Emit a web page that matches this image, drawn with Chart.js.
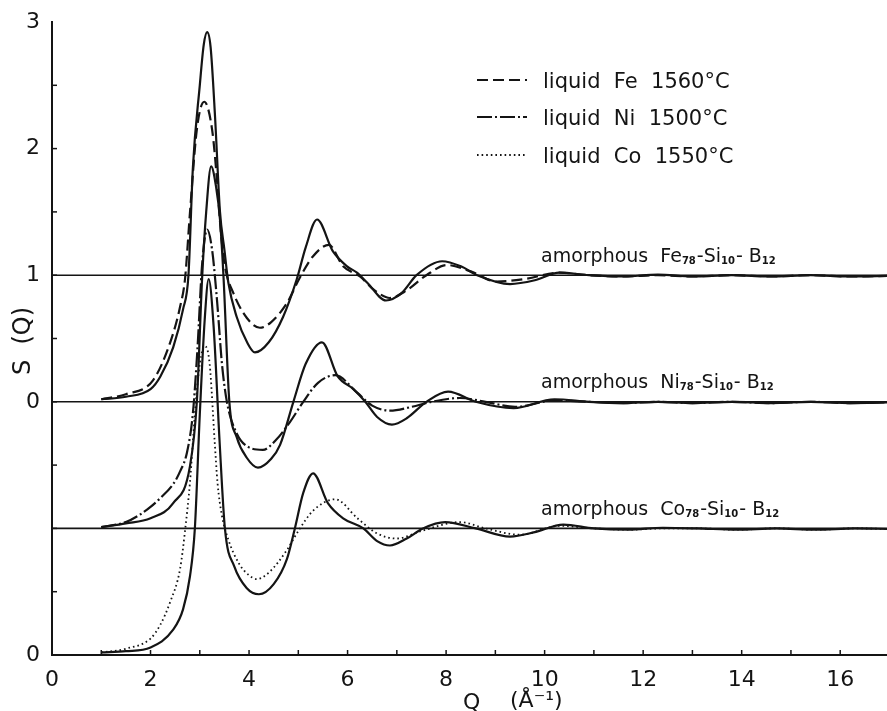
<!DOCTYPE html>
<html>
<head>
<meta charset="utf-8">
<script src="https://cdn.jsdelivr.net/npm/chart.js@4.4.0/dist/chart.umd.min.js"></script>
<style>
  html, body { margin: 0; padding: 0; background: #fff; }
  #wrap { width: 887px; height: 711px; }
</style>
</head>
<body>
<div id="wrap"><canvas id="sq"></canvas></div>
<script>
// Q in 1/Angstrom, S(Q). Each set is shifted down by one unit.
const feOffset = 0, niOffset = -1, coOffset = -2;

const feAmorQ = [1.0, 1.5, 2.0, 2.2, 2.46, 2.66, 2.77, 2.86, 3.0, 3.08, 3.15, 3.22, 3.31, 3.41, 3.5, 3.58, 3.75, 3.96, 4.12, 4.4, 4.69, 4.97, 5.15, 5.38, 5.7, 5.99, 6.19, 6.4, 6.78, 7.1, 7.4, 7.92, 8.3, 8.63, 9.3, 9.8, 10.3, 10.9, 11.6, 12.3, 13.0, 13.8, 14.6, 15.4, 16.2, 17.0];
const feAmorS = [0.02, 0.04, 0.1, 0.2, 0.43, 0.73, 1.0, 1.85, 2.5, 2.82, 2.92, 2.8, 2.25, 1.5, 1.2, 0.94, 0.67, 0.47, 0.39, 0.47, 0.67, 0.97, 1.22, 1.44, 1.19, 1.07, 1.02, 0.94, 0.8, 0.86, 1.0, 1.11, 1.07, 1.0, 0.93, 0.96, 1.02, 1.0, 0.99, 1.005, 0.99, 1.0, 0.99, 1.0, 0.99, 0.995];

const feLiqQ = [1.0, 1.5, 2.05, 2.4, 2.6, 2.7, 2.8, 2.94, 3.09, 3.25, 3.35, 3.43, 3.51, 3.68, 3.96, 4.22, 4.45, 4.77, 5.03, 5.3, 5.62, 5.91, 6.25, 6.55, 6.86, 7.2, 7.6, 8.02, 8.5, 9.03, 9.6, 10.3, 10.9, 11.6, 12.3, 13.0, 13.8, 14.6, 15.4, 16.2, 17.0];
const feLiqS = [0.02, 0.06, 0.17, 0.47, 0.75, 0.97, 1.49, 2.15, 2.37, 2.15, 1.75, 1.33, 1.07, 0.86, 0.66, 0.585, 0.63, 0.78, 0.98, 1.15, 1.24, 1.07, 0.99, 0.88, 0.82, 0.88, 1.0, 1.08, 1.03, 0.95, 0.97, 1.02, 1.0, 0.99, 1.0, 0.99, 1.0, 0.99, 1.0, 0.99, 0.995];

const niAmorQ = [1.0, 1.5, 2.0, 2.46, 2.8, 2.94, 3.05, 3.13, 3.23, 3.33, 3.41, 3.48, 3.6, 3.75, 3.95, 4.18, 4.45, 4.63, 4.9, 5.15, 5.48, 5.8, 6.12, 6.36, 6.6, 6.9, 7.2, 7.6, 8.04, 8.6, 9.37, 10.2, 10.9, 11.6, 12.3, 13.0, 13.8, 14.6, 15.4, 16.2, 17.0];
const niAmorS = [0.01, 0.04, 0.08, 0.2, 0.49, 1.0, 2.0, 2.5, 2.86, 2.7, 2.44, 2.0, 1.0, 0.72, 0.56, 0.48, 0.55, 0.66, 1.0, 1.3, 1.47, 1.2, 1.1, 1.0, 0.88, 0.82, 0.87, 1.0, 1.08, 1.0, 0.95, 1.02, 1.0, 0.99, 1.0, 0.99, 1.0, 0.99, 1.0, 0.99, 0.995];

const niLiqQ = [1.0, 1.5, 1.79, 2.0, 2.2, 2.46, 2.6, 2.74, 2.86, 2.95, 3.05, 3.15, 3.25, 3.35, 3.45, 3.55, 3.75, 4.0, 4.28, 4.55, 4.83, 5.1, 5.4, 5.75, 6.2, 6.5, 6.86, 7.3, 7.7, 8.28, 8.8, 9.4, 10.2, 10.9, 11.6, 12.3, 13.0, 13.8, 14.6, 15.4, 16.2, 17.0];
const niLiqS = [0.01, 0.05, 0.11, 0.17, 0.24, 0.35, 0.45, 0.6, 0.91, 1.4, 2.1, 2.36, 2.2, 1.8, 1.3, 1.0, 0.75, 0.64, 0.62, 0.7, 0.84, 1.0, 1.15, 1.21, 1.07, 0.97, 0.93, 0.96, 1.0, 1.03, 1.0, 0.96, 1.01, 1.0, 0.99, 1.0, 0.99, 1.0, 0.99, 1.0, 0.99, 0.995];

const coAmorQ = [1.0, 1.5, 2.0, 2.46, 2.66, 2.8, 2.9, 3.0, 3.1, 3.18, 3.28, 3.4, 3.51, 3.7, 3.95, 4.2, 4.5, 4.77, 4.93, 5.1, 5.3, 5.6, 5.91, 6.32, 6.6, 6.86, 7.2, 7.53, 7.98, 8.6, 9.3, 9.8, 10.38, 11.0, 11.7, 12.4, 13.1, 13.9, 14.7, 15.5, 16.3, 17.0];
const coAmorS = [0.02, 0.03, 0.06, 0.2, 0.36, 0.62, 1.0, 1.9, 2.65, 2.97, 2.6, 1.7, 1.0, 0.7, 0.53, 0.48, 0.56, 0.76, 1.0, 1.28, 1.435, 1.2, 1.08, 1.0, 0.9, 0.865, 0.92, 1.0, 1.05, 1.0, 0.935, 0.97, 1.03, 1.0, 0.99, 1.005, 1.0, 0.99, 1.0, 0.99, 1.0, 0.995];

const coLiqQ = [1.0, 1.5, 2.0, 2.2, 2.4, 2.6, 2.7, 2.8, 2.9, 3.0, 3.1, 3.2, 3.3, 3.36, 3.45, 3.58, 3.8, 4.0, 4.16, 4.4, 4.77, 5.0, 5.3, 5.75, 6.2, 6.6, 7.0, 7.5, 8.28, 8.8, 9.5, 10.3, 11.0, 11.7, 12.4, 13.1, 13.9, 14.7, 15.5, 16.3, 17.0];
const coLiqS = [0.02, 0.05, 0.13, 0.24, 0.42, 0.68, 0.98, 1.36, 1.9, 2.3, 2.44, 2.3, 1.7, 1.36, 1.1, 0.91, 0.72, 0.63, 0.6, 0.65, 0.83, 0.98, 1.14, 1.23, 1.08, 0.96, 0.92, 0.98, 1.05, 1.0, 0.95, 1.02, 1.0, 0.99, 1.0, 1.0, 0.99, 1.0, 0.99, 1.0, 0.995];

// axes
const qRange = [0, 16.95];
const yRange = [-2, 3];
const xLabelTicks = [0, 2, 4, 6, 8, 10, 12, 14, 16];
const xMinorTicks = [1, 2, 3, 4, 5, 6, 7, 8, 9, 10, 11, 12, 13, 14, 15, 16];
const yLabelTicks = [3, 2, 1, 0, -2];
const yLabelTexts = ['3', '2', '1', '0', '0'];
const yMinorTicks = [2.5, 2, 1.5, 1, 0.5, 0, -0.5, -1, -1.5];

const INK = '#141414';
const FONT = "'DejaVu Sans', 'Liberation Sans', sans-serif";

const pts = (qs, ss, off) => qs.map((q, i) => ({ x: q, y: ss[i] + off }));

function curve(label, data, dash, width) {
  return {
    label, data,
    borderColor: INK,
    borderWidth: width || 2.2,
    borderDash: dash || [],
    pointRadius: 0,
    cubicInterpolationMode: 'monotone',
    fill: false
  };
}

const DASH_FE = [11, 5];
const DASH_NI = [15, 3, 2, 3];
const DASH_CO = [1.6, 3];

const baselines = [feOffset, niOffset, coOffset].map(off =>
  curve('S = 1', [{ x: qRange[0], y: 1 + off }, { x: qRange[1], y: 1 + off }], [], 1.6));

const datasets = [
  ...baselines,
  curve('amorphous Fe', pts(feAmorQ, feAmorS, feOffset)),
  curve('liquid Fe', pts(feLiqQ, feLiqS, feOffset), DASH_FE),
  curve('amorphous Ni', pts(niAmorQ, niAmorS, niOffset)),
  curve('liquid Ni', pts(niLiqQ, niLiqS, niOffset), DASH_NI),
  curve('amorphous Co', pts(coAmorQ, coAmorS, coOffset)),
  curve('liquid Co', pts(coLiqQ, coLiqS, coOffset), DASH_CO, 1.8)
];

// small ticks pointing into the plot, like the original
const inwardTicks = {
  id: 'inwardTicks',
  afterDraw(chart) {
    const { ctx, chartArea, scales: { x, y } } = chart;
    ctx.save();
    ctx.strokeStyle = INK;
    ctx.lineWidth = 1.5;
    xMinorTicks.forEach(v => {
      const px = x.getPixelForValue(v);
      ctx.beginPath();
      ctx.moveTo(px, chartArea.bottom);
      ctx.lineTo(px, chartArea.bottom - 5);
      ctx.stroke();
    });
    yMinorTicks.forEach(v => {
      const py = y.getPixelForValue(v);
      ctx.beginPath();
      ctx.moveTo(chartArea.left, py);
      ctx.lineTo(chartArea.left + 5, py);
      ctx.stroke();
    });
    ctx.restore();
  }
};

function drawFormula(ctx, x, y, parts) {
  let cx = x;
  parts.forEach(([txt, sub]) => {
    ctx.font = sub ? `bold 10px ${FONT}` : `19px ${FONT}`;
    ctx.fillText(txt, cx, sub ? y + 2 : y);
    cx += ctx.measureText(txt).width + (sub ? 1 : 0);
  });
}

const annotations = {
  id: 'annotations',
  afterDraw(chart) {
    const { ctx } = chart;
    ctx.save();
    ctx.fillStyle = INK;
    ctx.strokeStyle = INK;
    ctx.textBaseline = 'alphabetic';
    ctx.textAlign = 'left';

    // key for the liquid curves
    const keys = [
      ['liquid  Fe  1560°C', DASH_FE, 2, 80],
      ['liquid  Ni  1500°C', DASH_NI, 2, 117],
      ['liquid  Co  1550°C', DASH_CO, 1.8, 155]
    ];
    keys.forEach(([txt, dash, w, yy]) => {
      ctx.setLineDash(dash);
      ctx.lineWidth = w;
      ctx.beginPath();
      ctx.moveTo(477, yy);
      ctx.lineTo(527, yy);
      ctx.stroke();
      ctx.setLineDash([]);
      ctx.font = `21px ${FONT}`;
      ctx.fillText(txt, 543, yy + 8);
    });

    const alloy = el => [['amorphous  ' + el, false], ['78', true], ['-Si', false], ['10', true], ['- B', false], ['12', true]];
    drawFormula(ctx, 541, 262, alloy('Fe'));
    drawFormula(ctx, 541, 388, alloy('Ni'));
    drawFormula(ctx, 541, 515, alloy('Co'));

    // axis titles
    ctx.font = `22px ${FONT}`;
    ctx.fillText('Q', 463, 709);
    ctx.fillText('(Å⁻¹)', 510, 707);

    ctx.translate(30, 341);
    ctx.rotate(-Math.PI / 2);
    ctx.textAlign = 'center';
    ctx.font = `24px ${FONT}`;
    ctx.fillText('S  (Q)', 0, 0);
    ctx.restore();
  }
};

new Chart(document.getElementById('sq'), {
  type: 'line',
  data: { datasets },
  options: {
    responsive: true,
    maintainAspectRatio: false,
    animation: false,
    layout: { padding: { top: 22, right: 0, left: 0, bottom: 0 } },
    plugins: { legend: { display: false }, tooltip: { enabled: false } },
    scales: {
      x: {
        type: 'linear',
        min: qRange[0],
        max: qRange[1],
        afterFit: s => { s.height = 56; },
        afterBuildTicks: s => { s.ticks = xLabelTicks.map(v => ({ value: v })); },
        grid: { display: false },
        border: { display: true, color: INK, width: 2 },
        ticks: {
          autoSkip: false, maxRotation: 0, padding: 4,
          color: INK, font: { family: FONT, size: 22 },
          callback: v => String(v)
        }
      },
      y: {
        type: 'linear',
        min: yRange[0],
        max: yRange[1],
        afterFit: s => { s.width = 52; },
        afterBuildTicks: s => { s.ticks = yLabelTicks.map(v => ({ value: v })); },
        grid: { display: false },
        border: { display: true, color: INK, width: 2 },
        ticks: {
          autoSkip: false, padding: 4,
          color: INK, font: { family: FONT, size: 22 },
          callback: v => yLabelTexts[yLabelTicks.indexOf(v)] || ''
        }
      }
    }
  },
  plugins: [inwardTicks, annotations]
});
</script>
</body>
</html>
